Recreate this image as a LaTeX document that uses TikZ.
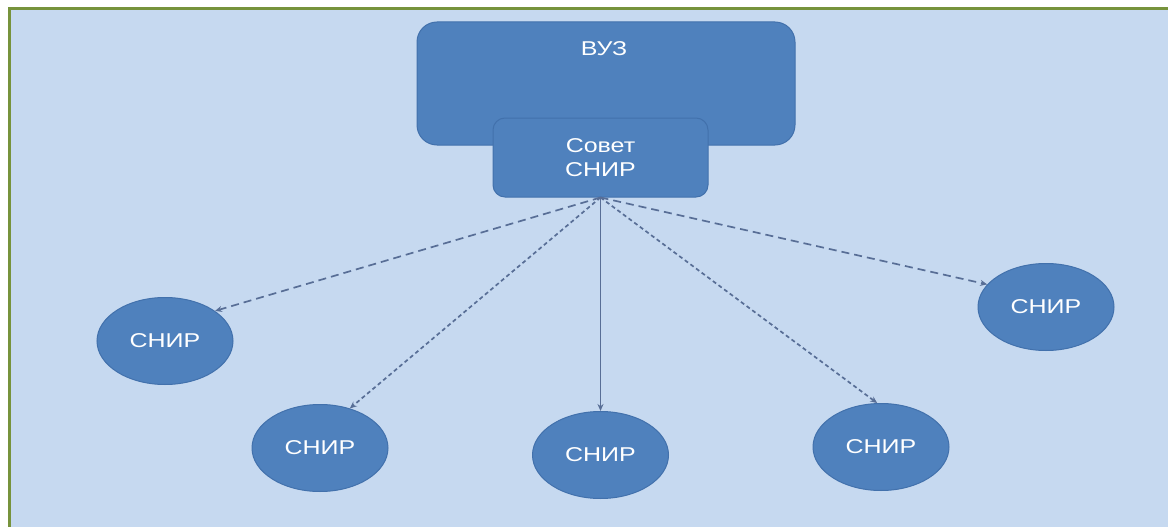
\documentclass[tikz,border=0pt]{standalone}
\usepackage{fontspec}
\setmainfont{Liberation Sans}
\usetikzlibrary{shapes.geometric,arrows.meta}
\definecolor{bgblue}{RGB}{198,217,240}
\definecolor{boxblue}{RGB}{79,129,189}
\definecolor{boxedge}{RGB}{66,113,172}
\definecolor{linegray}{RGB}{88,110,150}
\definecolor{framegreen}{RGB}{119,147,60}
\newcommand{\wtxt}[1]{\scalebox{1.25}[1]{#1}}
\tikzset{
  bigbox/.style={draw=boxedge, fill=boxblue, line width=1pt, rounded corners=20pt, inner sep=0pt},
  smallbox/.style={draw=boxedge, fill=boxblue, line width=1pt, rounded corners=12pt, inner sep=0pt, text=white, font=\fontsize{20}{24}\selectfont, align=center},
  oval/.style={ellipse, draw=boxedge, fill=boxblue, line width=1pt, inner sep=0pt, minimum width=136pt, minimum height=87pt, text=white, font=\fontsize{20}{24}\selectfont},
  boxtext/.style={text=white, font=\fontsize{20}{24}\selectfont, inner sep=0pt},
  conn/.style={draw=linegray, line width=1.7pt, -{Stealth[length=7pt,width=6pt]}},
  longdash/.style={dash pattern=on 8pt off 5pt},
  shortdash/.style={dash pattern=on 4pt off 3pt},
}
\begin{document}
\begin{tikzpicture}[x=1pt,y=-1pt]
\useasboundingbox (0,0) rectangle (1168,527);
\fill[white] (0,0) rectangle (1168,527);
\fill[bgblue] (9,9) rectangle (1168,527);
\draw[framegreen, line width=3pt] (9,527) -- (9,9) -- (1168,9);

\node[bigbox, minimum width=378pt, minimum height=123pt] (vuz) at (606,83.5) {};
\node[boxtext] (vuzt) at (604,49) {\wtxt{ВУЗ}};
\node[smallbox, minimum width=215pt, minimum height=79pt] (sov) at (600.5,157.5) {\wtxt{Совет}\\\wtxt{СНИР}};

\node[oval] (c1) at (165,341) {\wtxt{СНИР}};
\node[oval] (c2) at (320,448) {\wtxt{СНИР}};
\node[oval] (c3) at (600.5,455) {\wtxt{СНИР}};
\node[oval] (c4) at (881,447) {\wtxt{СНИР}};
\node[oval] (c5) at (1046,307) {\wtxt{СНИР}};

\draw[conn, longdash] (sov.south) -- (c1.31);
\draw[conn, shortdash] (sov.south) -- (c2.53);
\draw[conn] (sov.south) -- (c3.north);
\draw[conn, shortdash] (sov.south) -- (c4.95);
\draw[conn, longdash] (sov.south) -- (c5.159);
\end{tikzpicture}
\end{document}
